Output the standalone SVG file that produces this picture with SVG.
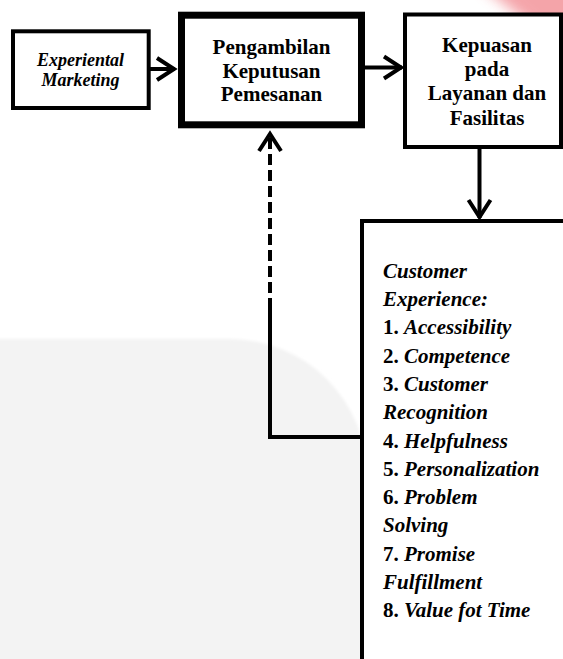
<svg xmlns="http://www.w3.org/2000/svg" width="563" height="659" viewBox="0 0 563 659">
  <style>
    .box { fill: #ffffff; stroke: #000000; stroke-width: 4; }
    .thick { stroke-width: 7; }
    .t { font-family: "Liberation Serif", "Times New Roman", serif; font-size: 21px; font-weight: bold; fill: #000000; }
    .ti { font-family: "Liberation Serif", "Times New Roman", serif; font-size: 18px; font-weight: bold; font-style: italic; fill: #000000; }
    .li { font-family: "Liberation Serif", "Times New Roman", serif; font-size: 21px; font-weight: bold; fill: #000000; }
    .it { font-style: italic; }
    .conn { fill: none; stroke: #000000; stroke-width: 4; }
    .dash { stroke-dasharray: 11 5; }
  </style>
  <defs>
    <marker id="chev" markerUnits="userSpaceOnUse" markerWidth="30" markerHeight="30" refX="0" refY="0" orient="auto" overflow="visible">
      <path d="M-18,-11 L-1,0 L-18,11" fill="none" stroke="#000000" stroke-width="4" stroke-linejoin="miter"/>
    </marker>
    <filter id="soft" x="-50%" y="-50%" width="200%" height="200%">
      <feGaussianBlur stdDeviation="7"/>
    </filter>
    <filter id="soft2" x="-10%" y="-10%" width="120%" height="120%">
      <feGaussianBlur stdDeviation="1.5"/>
    </filter>
  </defs>

  <!-- background watermark shapes -->
  <rect x="0" y="0" width="563" height="659" fill="#ffffff"/>
  <path d="M-10,339 H230 A137,137 0 0 1 367,476 V670 H-10 Z" fill="#f3f3f3" filter="url(#soft2)"/>
  <path d="M474,-20 L580,-20 L580,55 L540,32 Z" fill="#ec5a64" opacity="0.55" filter="url(#soft)"/>

  <g id="connectors">
    <line class="conn" x1="150" y1="69" x2="175" y2="69" marker-end="url(#chev)"/>
    <line class="conn" x1="365" y1="67.5" x2="402" y2="67.5" marker-end="url(#chev)"/>
    <line class="conn" x1="479.5" y1="148" x2="479.5" y2="218" marker-end="url(#chev)"/>
    <polyline class="conn" points="362,437 270,437 270,300"/>
    <line class="conn dash" x1="270" y1="437" x2="270" y2="133" marker-end="url(#chev)"/>
  </g>

  <g id="node-experiental">
    <rect class="box" x="13" y="31.3" width="135.7" height="76.7"/>
    <text class="ti" x="80.5" y="66" text-anchor="middle">Experiental</text>
    <text class="ti" x="80.5" y="86" text-anchor="middle">Marketing</text>
  </g>

  <g id="node-pengambilan">
    <rect class="box thick" x="181.5" y="15.2" width="180" height="109.6"/>
    <text class="t" x="271.5" y="54.3" text-anchor="middle">Pengambilan</text>
    <text class="t" x="271.5" y="77.8" text-anchor="middle">Keputusan</text>
    <text class="t" x="271.5" y="101.3" text-anchor="middle">Pemesanan</text>
  </g>

  <g id="node-kepuasan">
    <rect class="box" x="405" y="14.5" width="156" height="132.5"/>
    <text class="t" x="487" y="51.7" text-anchor="middle">Kepuasan</text>
    <text class="t" x="487" y="76" text-anchor="middle">pada</text>
    <text class="t" x="487" y="100.3" text-anchor="middle">Layanan dan</text>
    <text class="t" x="487" y="124.6" text-anchor="middle">Fasilitas</text>
  </g>

  <g id="node-customer">
    <rect class="box" x="362" y="221" width="250" height="500"/>
    <text class="li" x="383" y="277.7"><tspan class="it">Customer</tspan></text>
    <text class="li" x="383" y="306"><tspan class="it">Experience:</tspan></text>
    <text class="li" x="383" y="334.3">1. <tspan class="it">Accessibility</tspan></text>
    <text class="li" x="383" y="362.6">2. <tspan class="it">Competence</tspan></text>
    <text class="li" x="383" y="390.9">3. <tspan class="it">Customer</tspan></text>
    <text class="li" x="383" y="419.2"><tspan class="it">Recognition</tspan></text>
    <text class="li" x="383" y="447.5">4. <tspan class="it">Helpfulness</tspan></text>
    <text class="li" x="383" y="475.8">5. <tspan class="it">Personalization</tspan></text>
    <text class="li" x="383" y="504.1">6. <tspan class="it">Problem</tspan></text>
    <text class="li" x="383" y="532.4"><tspan class="it">Solving</tspan></text>
    <text class="li" x="383" y="560.7">7. <tspan class="it">Promise</tspan></text>
    <text class="li" x="383" y="589"><tspan class="it">Fulfillment</tspan></text>
    <text class="li" x="383" y="617.3">8. <tspan class="it">Value fot Time</tspan></text>
  </g>
</svg>
